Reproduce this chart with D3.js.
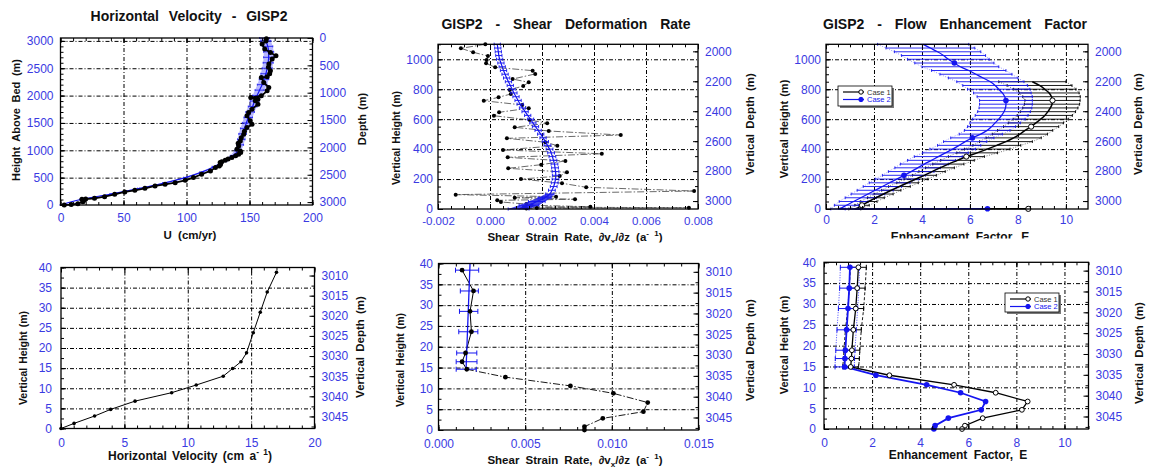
<!DOCTYPE html>
<html lang="en">
<head>
<meta charset="UTF-8">
<title>GISP2 velocity, shear and enhancement</title>
<style>
    body { margin: 0; background: #fff; }
    svg { display: block; }
</style>
</head>
<body>
<svg id="chart" width="1149" height="470"></svg>
<script src="https://cdnjs.cloudflare.com/ajax/libs/d3/7.8.5/d3.min.js"></script>
<script>
// ---- horizontal velocity, whole column ----
const vel_ticks_x = [0, 50, 100, 150, 200];
const vel_ticks_h = [0, 500, 1000, 1500, 2000, 2500, 3000];
const vel_ticks_depth = [0, 500, 1000, 1500, 2000, 2500, 3000];
const vel_meas_h = [2,8,25,61,92,105,110,122,153,195,238,268,305,348,378,409,452,501,562,623,
    684,715,740,776,790,818,840,867,900,928,960,989,1019,1080,1130,1172,1230,1294,1350,1416,
    1477,1538,1630,1691,1752,1843,1904,1934,1965,1996,2087,2148,2240,2331,2343,2400,2454,2520,2576,2667,
    2728,2789,2850,2942,3000,3040];
const vel_meas_u = [3,8.5,13.8,17.8,19,17,20,27,35,43,51,59,67,75,83,91,99,105.5,112,119,
    123,126,127,126.7,128,130.7,133,136,139,141.4,143,142.7,140,141.4,141,142.7,143.5,145.4,146,148,
    152,150.6,148,149.3,152,156.7,154.6,156.7,151,159.4,164,165.3,161.3,159.4,164,166,166.6,165,165.4,168,
    171,166.6,162.1,160,163,163.4];
const vel_model_h = [0,100,200,300,400,500,600,700,800,900,1000,1100,1200,1300,1400,1500,1600,1700,1800,1900,
    2000,2100,2200,2300,2400,2500,2600,2700,2800,2900,3000,3053];
const vel_model_u = [0,16,40,62,82,99,112,122,130,137,141,142.5,143.5,144.5,146,147.5,149,150.5,152.5,154,
    156,158,160,161.5,163,164,164.8,165.2,165.2,164.5,163,162];
const vel_model_err = [0.3,0.6,0.8,0.8,1,1.2,1.4,1.7,2,2.3,2.6,2.8,3,3,3.2,3.2,3.4,3.4,3.5,3.5,
    3.6,3.6,3.8,3.8,4,4,4,4,4,4,4,4];

// ---- shear deformation rate, lowest 1100 m ----
const strain_ticks_x = [-0.002, 0, 0.002, 0.004, 0.006, 0.008];
const upper_ticks_h = [0, 200, 400, 600, 800, 1000];
const upper_ticks_depth = [2000, 2200, 2400, 2600, 2800, 3000];
const strain_meas_h = [1100,1073,1047,1022,995,973,946,924,902,868,846,822,795,768,746,
    723,695,673,646,623,595,572,546,521,494,472,446,423,394,369,345,321,296,272,245,
    220,200,172,145,120,96,82,75,65,58,47,33,25,15,12,9,6,3];
const strain_meas_x = [-0.00018,-0.00112,-0.00065,-0.00008,-0.00013,-0.00015,0.0002,0.00164,0.00174,0.00087,
    0.00149,0.00128,0.00076,0.0008,0.00033,-0.00024,0.00124,0.00149,0.00035,0.00015,0.00153,0.0022,0.00095,
    0.00226,0.00503,0.00065,0.00213,0.00259,0.0005,0.0043,0.00068,0.0029,0.00197,0.0007,0.00296,
    0.00268,0.00119,0.00277,0.0037,0.00785,-0.00132,0.00254,0.00095,0.00327,0.00028,
    0.00042,0.0014,0.0016,0.00386,0.0013,0.00765,0.0018,0.0014];
const model_h = [1100,1075,1050,1025,1000,975,950,925,900,875,850,825,800,775,750,725,700,675,650,625,
    600,575,550,525,500,475,450,425,400,375,350,325,300,275,250,225,200,175,150,125,100,75,50,25,0];
const strain_model_x = [0.00028,0.0003,0.00032,0.00034,0.00037,0.00042,0.00047,0.00052,0.00058,0.00064,
    0.00071,0.00078,0.00085,0.00092,0.001,0.00108,0.00116,0.00125,0.00135,0.00145,
    0.00156,0.00165,0.00175,0.00185,0.00195,0.00204,0.00213,0.00221,0.00229,0.00235,
    0.0024,0.00244,0.00248,0.0025,0.00252,0.00253,0.00252,0.00249,0.00245,0.00238,
    0.0023,0.0021,0.0018,0.0015,0.0011];
const strain_model_err = [0.00012,0.00012,0.00012,0.00012,0.00012,0.00012,0.00012,0.00012,0.00012,0.00012,
    0.00012,0.00012,0.00012,0.00012,0.00012,0.00012,0.00012,0.00012,0.00012,0.00012,
    0.00012,0.00012,0.00012,0.00012,0.00012,0.00012,0.00012,0.00013,0.00013,0.00013,
    0.00013,0.00013,0.00013,0.00013,0.00013,0.00013,0.00013,0.00013,0.00013,0.00013,
    0.00016,0.00025,0.00032,0.00038,0.0004];

// ---- flow enhancement factor, lowest 1100 m (case 1 starts at 850 m) ----
const enh_ticks_x = [0, 2, 4, 6, 8, 10];
const enh_case2 = [4.05,4.35,4.65,4.9,5.1,5.35,5.6,5.95,6.25,6.55,6.85,7.05,7.2,7.35,7.45,7.5,7.5,7.48,7.42,7.32,
    7.2,7.05,6.9,6.72,6.45,6.1,5.8,5.55,5.28,4.98,4.68,4.4,4.1,3.82,3.55,3.25,2.95,2.65,2.35,2.05,
    1.75,1.45,1.15,0.85,0.5];
const enh_case2_err = [1.9,1.85,1.8,1.75,1.7,1.65,1.6,1.55,1.5,1.45,1.4,1.35,1.3,1.2,1.15,1.1,1.1,1.1,1.1,1.1,
    1.1,1.05,1,0.95,0.9,0.9,0.9,0.9,0.95,0.95,1,1,1,0.95,0.95,0.9,0.9,0.85,0.8,0.75,
    0.7,0.65,0.6,0.5,0.3];
const enh_case1 = [8.6,8.9,9.12,9.3,9.4,9.44,9.42,9.35,9.25,9.12,8.95,8.75,8.55,8.3,8.08,7.82,7.5,7.12,6.72,6.3,
    5.85,5.48,5.1,4.75,4.42,4.1,3.75,3.4,3.06,2.72,2.4,2.08,1.78,1.5,1.2];
const enh_case1_err = [1.4,1.35,1.3,1.25,1.2,1.15,1.15,1.15,1.15,1.15,1.15,1.15,1.15,1.15,1.15,1.15,1.1,1,0.95,0.85,
    0.75,0.7,0.65,0.6,0.55,0.5,0.5,0.45,0.45,0.4,0.4,0.35,0.35,0.3,0.25];
const enh_case2_marks = [975, 725, 475, 225];
const enh_case1_marks = [725, 550, 350, 25];
const enh_base = {case1: [8.43, 1], case2: [6.73, 2]};   // [E, height] of the basal points

// ---- lowest 40 m ----
const low_ticks_h = [0, 5, 10, 15, 20, 25, 30, 35, 40];
const low_ticks_depth = [3010, 3015, 3020, 3025, 3030, 3035, 3040, 3045];
const lowvel_ticks_x = [0, 5, 10, 15, 20];
const lowvel_h = [0,1.27,3.1,4.75,6.8,8.9,10.8,13,14.9,16.6,18.8,23.8,28.9,33.9,38.8];
const lowvel_u = [0,1.03,2.65,3.92,5.84,8.73,10.67,12.8,13.54,14.2,14.64,15.17,15.72,16.27,17];

const lowstrain_ticks_x = [0, 0.005, 0.010, 0.015];
const lowstrain_h = [38.4,33.4,28.5,23.6,18.5,16.4,14.6,12.7,10.6,8.8,6.6,4.4,2.8,0.8,0];
const lowstrain_x = [0.00136,0.00202,0.00182,0.0019,0.00156,0.00136,0.00163,0.00386,0.00761,0.01009,
    0.01207,0.01182,0.00948,0.00842,0.00842];
const lowstrain_model_h = [40, 14.6];
const lowstrain_model_x = [0.00182, 0.00159];
const lowstrain_bar_x = [0.00165,0.00178,0.00174,0.00172,0.00163,0.00162,0.0016];
const lowstrain_bar_err = [0.00067,0.00052,0.00053,0.00055,0.00058,0.0006,0.00058];

const lowenh_h = [38.8,33.8,28.9,23.8,18.9,16.9,14.9,12.9,10.6,8.7,6.6,4.6,2.6,0.8,0];
const lowenh_case1 = [1.43,1.38,1.32,1.22,1.16,1.14,1.11,2.72,5.41,7.14,8.47,8.23,6.6,5.86,5.74];
const lowenh_case2 = [1.08,1.05,1,0.94,0.89,0.87,0.86,2.16,4.27,5.68,6.72,6.54,5.17,4.62,4.57];
const lowenh_case1_err = [0.33,0.33,0.33,0.33,0.33,0.33,0.33];
const lowenh_case2_err = [0.4,0.4,0.4,0.4,0.4,0.4,0.4];

const FONT = '"Liberation Sans", Arial, Helvetica, sans-serif';
const TICK_BLUE = "#3a3ae2";
const BLUE = "#1414f0";

const svg = d3.select("#chart").attr("font-family", FONT);

const fmt3 = d => d3.format(".3f")(d).replace("\u2212", "-");

function Panel(opt) {
    this.opt = opt;
    this.x = d3.scaleLinear().domain(opt.x_domain).range(opt.x_range);
    this.y = d3.scaleLinear().domain(opt.y_domain).range(opt.y_range);
    this.depth = d3.scaleLinear()
        .domain([opt.thickness - opt.y_domain[0], opt.thickness - opt.y_domain[1]])
        .range(opt.y_range);
    this.g = svg.append("g");
    this.grid = this.g.append("g");
    this.marks = this.g.append("g");
    this.frame = this.g.append("g");
    this.draw_grid();
    this.draw_frame();
}

Panel.prototype.draw_grid = function() {
    const o = this.opt;
    const [x0, x1] = o.x_range, [yb, yt] = o.y_range;
    const inside = (v, dom) => v > dom[0] + 1e-12 && v < dom[1] - 1e-12;

    this.grid.append("g")
        .attr("transform", "translate(0," + yb + ")")
        .call(d3.axisBottom(this.x)
            .tickValues(o.x_ticks.filter(v => inside(v, o.x_domain)))
            .tickSize(-(yb - yt)).tickFormat(""));
    this.grid.append("g")
        .attr("transform", "translate(" + x0 + ",0)")
        .call(d3.axisLeft(this.y)
            .tickValues(o.y_ticks.filter(v => inside(v, o.y_domain)))
            .tickSize(-(x1 - x0)).tickFormat(""));
    this.grid.selectAll(".domain").remove();
    this.grid.selectAll("line")
        .attr("stroke", "#000")
        .attr("stroke-width", 1)
        .attr("stroke-dasharray", "4,2,1,2");
}

Panel.prototype.draw_frame = function() {
    const o = this.opt;
    const [x0, x1] = o.x_range, [yb, yt] = o.y_range;
    const minor = (a, b, step) => {
        const lo = Math.min(a, b), hi = Math.max(a, b);
        return d3.range(Math.ceil(lo / step - 1e-9) * step, hi + 1e-9, step);
    };
    const put = (gen, tx, ty, fs) => {
        const a = this.frame.append("g")
            .attr("transform", "translate(" + tx + "," + ty + ")")
            .call(gen);
        a.select(".domain").remove();
        a.selectAll("line").attr("stroke", "#000");
        a.selectAll("text")
            .attr("fill", TICK_BLUE)
            .attr("font-size", fs || 12)
            .attr("font-family", FONT);
        return a;
    };
    const xfmt = o.x_fmt || d3.format("d");

    // bottom + top
    put(d3.axisBottom(this.x).tickValues(o.x_ticks).tickSizeInner(-5).tickSizeOuter(0)
        .tickPadding(o.x_pad).tickFormat(xfmt), 0, yb, o.x_font);
    put(d3.axisBottom(this.x).tickValues(minor(o.x_domain[0], o.x_domain[1], o.x_minor))
        .tickSizeInner(-3).tickSizeOuter(0).tickFormat(""), 0, yb);
    put(d3.axisTop(this.x).tickValues(o.x_ticks).tickSizeInner(-5).tickSizeOuter(0)
        .tickFormat(""), 0, yt);
    put(d3.axisTop(this.x).tickValues(minor(o.x_domain[0], o.x_domain[1], o.x_minor))
        .tickSizeInner(-3).tickSizeOuter(0).tickFormat(""), 0, yt);

    // left: height above bed
    put(d3.axisLeft(this.y).tickValues(o.y_ticks).tickSizeInner(-5).tickSizeOuter(0)
        .tickPadding(o.y_pad).tickFormat(d3.format("d")), x0, 0);
    put(d3.axisLeft(this.y).tickValues(minor(o.y_domain[0], o.y_domain[1], o.y_minor))
        .tickSizeInner(-3).tickSizeOuter(0).tickFormat(""), x0, 0);

    // right: depth
    const dd = this.depth.domain();
    put(d3.axisRight(this.depth).tickValues(o.d_ticks).tickSizeInner(-5).tickSizeOuter(0)
        .tickPadding(7).tickFormat(d3.format("d")), x1, 0);
    put(d3.axisRight(this.depth).tickValues(minor(dd[0], dd[1], o.d_minor))
        .tickSizeInner(-3).tickSizeOuter(0).tickFormat(""), x1, 0);

    this.frame.append("rect")
        .attr("x", x0).attr("y", yt)
        .attr("width", x1 - x0).attr("height", yb - yt)
        .attr("fill", "none").attr("stroke", "#000").attr("stroke-width", 1.3);
}

Panel.prototype.error_bars = function(hs, vals, errs, color, cap, width) {
    const p = this;
    this.marks.append("g").selectAll("path")
        .data(hs.map((h, i) => [h, vals[i], errs[i]]))
        .enter().append("path")
        .attr("d", d => {
            const yy = p.y(d[0]), xa = p.x(d[1] - d[2]), xb = p.x(d[1] + d[2]);
            return "M" + xa + "," + yy + "H" + xb +
                "M" + xa + "," + (yy - cap) + "V" + (yy + cap) +
                "M" + xb + "," + (yy - cap) + "V" + (yy + cap);
        })
        .attr("fill", "none").attr("stroke", color).attr("stroke-width", width || 1);
}

Panel.prototype.line = function(hs, vals, style, curve) {
    const p = this;
    const gen = d3.line().x(d => p.x(d[1])).y(d => p.y(d[0]));
    if (curve) gen.curve(curve);
    const path = this.marks.append("path")
        .datum(hs.map((h, i) => [h, vals[i]]))
        .attr("d", gen)
        .attr("fill", "none");
    Object.entries(style).forEach(([k, v]) => path.attr(k, v));
    return path;
}

Panel.prototype.dots = function(hs, vals, r, fill, stroke) {
    const p = this;
    this.marks.append("g").selectAll("circle")
        .data(hs.map((h, i) => [h, vals[i]]))
        .enter().append("circle")
        .attr("cx", d => p.x(d[1])).attr("cy", d => p.y(d[0]))
        .attr("r", r)
        .attr("fill", fill)
        .attr("stroke", stroke || "none")
        .attr("stroke-width", 1);
}

function text(x, y, str, size, opts) {
    opts = opts || {};
    const t = svg.append("text")
        .attr("x", x).attr("y", y)
        .attr("font-size", size)
        .attr("font-weight", "bold")
        .attr("text-anchor", "middle")
        .attr("fill", "#111")
        .attr("word-spacing", opts.ws || 0);
    if (opts.rotate) {
        t.attr("x", 0).attr("y", 0)
            .attr("transform", "translate(" + x + "," + y + ") rotate(-90)");
    }
    if (opts.parts) {
        opts.parts.forEach(pt => {
            const s = t.append("tspan").text(pt.t);
            if (pt.sup) s.attr("font-size", size * 0.7).attr("dy", -size * 0.4);
            if (pt.sub) s.attr("font-size", size * 0.7).attr("dy", size * 0.3);
            if (pt.reset) s.attr("dy", pt.reset);
        });
    } else {
        t.text(str);
    }
    return t;
}

function legend(x, y, w, h, rows) {
    const g = svg.append("g");
    g.append("rect").attr("x", x + 2).attr("y", y + 2).attr("width", w).attr("height", h)
        .attr("fill", "#777");
    g.append("rect").attr("x", x).attr("y", y).attr("width", w).attr("height", h)
        .attr("fill", "#fff").attr("stroke", "#000").attr("stroke-width", 0.8);
    rows.forEach((r, i) => {
        const yy = y + 6 + i * 7.5;
        g.append("line").attr("x1", x + 5).attr("x2", x + 26).attr("y1", yy).attr("y2", yy)
            .attr("stroke", r.color).attr("stroke-width", 1.2);
        g.append("circle").attr("cx", x + 23).attr("cy", yy).attr("r", 2.2)
            .attr("fill", r.open ? "#fff" : r.color).attr("stroke", r.color);
        g.append("text").attr("x", x + 29).attr("y", yy + 2.5).attr("font-size", 7.5)
            .attr("fill", r.color === "#000" ? "#333" : r.color).text(r.label);
    });
}

// ================= top row =================
const p1 = new Panel({
    x_domain: [0, 200], x_range: [60.5, 312.5], x_ticks: vel_ticks_x, x_minor: 10, x_pad: 8.5,
    y_domain: [0, 3053], y_range: [205, 38], y_ticks: vel_ticks_h, y_minor: 100, y_pad: 7,
    thickness: 3053, d_ticks: vel_ticks_depth, d_minor: 100
});
p1.marks.append("path")
    .datum(vel_model_h.map((h, i) => [h, vel_model_u[i], vel_model_err[i]]))
    .attr("d", d3.area().y(d => p1.y(d[0])).x0(d => p1.x(d[1] - d[2])).x1(d => p1.x(d[1] + d[2])))
    .attr("fill", "#4a4aff").attr("fill-opacity", 0.4);
p1.error_bars(vel_model_h, vel_model_u, vel_model_err, BLUE, 1, 0.8);
p1.line(vel_model_h, vel_model_u, {stroke: BLUE, "stroke-width": 1.2}, d3.curveMonotoneY);
p1.line(vel_meas_h, vel_meas_u, {stroke: "#000", "stroke-width": 1.8});
p1.dots(vel_meas_h, vel_meas_u, 2.5, "#000");

const p2 = new Panel({
    x_domain: [-0.002, 0.008], x_range: [438, 698], x_ticks: strain_ticks_x, x_minor: 0.0005,
    x_pad: 8, x_fmt: fmt3, x_font: 11.5,
    y_domain: [0, 1100], y_range: [209, 44.3], y_ticks: upper_ticks_h, y_minor: 50, y_pad: 5,
    thickness: 3053, d_ticks: upper_ticks_depth, d_minor: 100
});
p2.line(strain_meas_h, strain_meas_x,
    {stroke: "#444", "stroke-width": 0.8, "stroke-dasharray": "7,2,1.5,2"});
p2.dots(strain_meas_h, strain_meas_x, 2, "#000");
{
    const low = model_h.map((h, i) => [h, strain_model_x[i], strain_model_err[i]]).filter(d => d[0] <= 100);
    p2.marks.append("path").datum(low)
        .attr("d", d3.area().y(d => p2.y(d[0])).x0(d => p2.x(d[1] - d[2])).x1(d => p2.x(d[1] + d[2])))
        .attr("fill", "#2424e8").attr("fill-opacity", 0.85);
}
p2.error_bars(model_h, strain_model_x, strain_model_err, BLUE, 1.6, 0.9);
p2.line(model_h, strain_model_x, {stroke: BLUE, "stroke-width": 1.2}, d3.curveMonotoneY);

const p3 = new Panel({
    x_domain: [0, 10.92], x_range: [826, 1088], x_ticks: enh_ticks_x, x_minor: 0.5, x_pad: 6.5,
    y_domain: [0, 1100], y_range: [209, 44.3], y_ticks: upper_ticks_h, y_minor: 50, y_pad: 5,
    thickness: 3053, d_ticks: upper_ticks_depth, d_minor: 100
});
{
    const h1 = model_h.slice(model_h.length - enh_case1.length);
    const env = (p, hs, v, e, sign, color, dash) =>
        p.line(hs, v.map((x, i) => x + sign * e[i]),
            {stroke: color, "stroke-width": 0.8, "stroke-dasharray": dash});
    env(p3, h1, enh_case1, enh_case1_err, -1, "#555", "1,1.5");
    env(p3, h1, enh_case1, enh_case1_err, 1, "#555", "1,1.5");
    p3.error_bars(h1, enh_case1, enh_case1_err, "#000", 1.4, 0.9);
    env(p3, model_h, enh_case2, enh_case2_err, -1, "#8080ff", "1,1.5");
    env(p3, model_h, enh_case2, enh_case2_err, 1, "#8080ff", "1,1.5");
    p3.error_bars(model_h, enh_case2, enh_case2_err, BLUE, 1.4, 0.9);

    p3.line(h1.concat([enh_base.case1[1]]), enh_case1.concat([enh_base.case1[0]]),
        {stroke: "#000", "stroke-width": 1.5}, d3.curveMonotoneY);
    p3.line(model_h.concat([enh_base.case2[1]]), enh_case2.concat([enh_base.case2[0]]),
        {stroke: BLUE, "stroke-width": 1.3}, d3.curveMonotoneY);

    const pick = (hs, v, marks) => marks.map(m => v[hs.indexOf(m)]);
    p3.dots(enh_case1_marks.concat([enh_base.case1[1]]),
        pick(h1, enh_case1, enh_case1_marks).concat([enh_base.case1[0]]), 2.6, "#fff", "#000");
    p3.dots(enh_case2_marks.concat([enh_base.case2[1]]),
        pick(model_h, enh_case2, enh_case2_marks).concat([enh_base.case2[0]]), 2.8, BLUE);
}
legend(838, 86, 54, 20, [
    {label: "Case 1", color: "#000", open: true},
    {label: "Case 2", color: BLUE, open: false}
]);

// titles and axis labels, top row
text(189, 21, "Horizontal Velocity - GISP2", 14, {ws: 6});
text(566, 29, "GISP2 - Shear Deformation Rate", 14, {ws: 9});
text(955, 29, "GISP2 - Flow Enhancement Factor", 14, {ws: 9});

text(190, 239, "U (cm/yr)", 11.5, {ws: 3});
text(575, 241, null, 11.5, {ws: 3, parts: [
    {t: "Shear Strain Rate,  \u2202v"}, {t: "x", sub: true}, {t: "/\u2202z  (a", reset: -11.5 * 0.3},
    {t: "- 1", sup: true}, {t: ")", reset: 11.5 * 0.4}]});
text(960, 241, "Enhancement Factor, E", 12, {ws: 3});

text(20, 120, "Height Above Bed (m)", 11, {rotate: true, ws: 2.5});
text(366, 119, "Depth (m)", 11, {rotate: true, ws: 1});
text(400, 138, "Vertical Height (m)", 10.5, {rotate: true, ws: 1});
text(754, 124, "Vertical Depth (m)", 11.5, {rotate: true, ws: 2});
text(788, 129, "Vertical Height (m)", 11, {rotate: true, ws: 1});
text(1142, 124, "Vertical Depth (m)", 11.5, {rotate: true, ws: 2});

// the lower row sits on top of the upper row's bottom labels
svg.append("rect").attr("x", 383).attr("y", 242.5).attr("width", 383).attr("height", 30).attr("fill", "#fff");
svg.append("rect").attr("x", 766).attr("y", 238.5).attr("width", 383).attr("height", 30).attr("fill", "#fff");

// ================= bottom row =================
const p4 = new Panel({
    x_domain: [0, 20], x_range: [61, 314.5], x_ticks: lowvel_ticks_x, x_minor: 1, x_pad: 9.5,
    y_domain: [0, 40], y_range: [428.5, 267.5], y_ticks: low_ticks_h, y_minor: 2.5, y_pad: 9,
    thickness: 3048, d_ticks: low_ticks_depth, d_minor: 2.5
});
p4.line(lowvel_h, lowvel_u, {stroke: "#000", "stroke-width": 1});
p4.dots(lowvel_h, lowvel_u, 1.8, "#000");

const p5 = new Panel({
    x_domain: [0, 0.015], x_range: [438.5, 698.5], x_ticks: lowstrain_ticks_x, x_minor: 0.001,
    x_pad: 9.5, x_fmt: fmt3,
    y_domain: [0, 40], y_range: [430, 263.5], y_ticks: low_ticks_h, y_minor: 2.5, y_pad: 5.5,
    thickness: 3048, d_ticks: low_ticks_depth, d_minor: 2.5
});
{
    const k = lowstrain_bar_x.length;
    p5.line(lowstrain_h.slice(k - 1), lowstrain_x.slice(k - 1),
        {stroke: "#000", "stroke-width": 0.9, "stroke-dasharray": "7,2,1.5,2"});
    p5.line(lowstrain_h.slice(0, k), lowstrain_x.slice(0, k), {stroke: "#000", "stroke-width": 1});
    p5.error_bars(lowstrain_h.slice(0, k), lowstrain_bar_x, lowstrain_bar_err, BLUE, 2.5, 1);
    p5.line(lowstrain_model_h, lowstrain_model_x, {stroke: BLUE, "stroke-width": 1.3});
    p5.dots(lowstrain_h, lowstrain_x, 2.4, "#000");
}

const p6 = new Panel({
    x_domain: [0, 11], x_range: [824, 1088.5], x_ticks: enh_ticks_x, x_minor: 0.5, x_pad: 9,
    y_domain: [0, 40], y_range: [429, 262.3], y_ticks: low_ticks_h, y_minor: 2.5, y_pad: 8,
    thickness: 3048, d_ticks: low_ticks_depth, d_minor: 2.5
});
{
    const k = lowenh_case1_err.length;
    const hs = lowenh_h.slice(0, k);
    const env = (v, e, sign, color, dash) =>
        p6.line(hs, v.slice(0, k).map((x, i) => x + sign * e[i]),
            {stroke: color, "stroke-width": 0.9, "stroke-dasharray": dash});
    env(lowenh_case1, lowenh_case1_err, -1, "#000", "3,2");
    env(lowenh_case1, lowenh_case1_err, 1, "#000", "3,2");
    env(lowenh_case2, lowenh_case2_err, -1, "#3030ff", "1,1.5");
    env(lowenh_case2, lowenh_case2_err, 1, "#3030ff", "1,1.5");
    p6.error_bars(hs, lowenh_case1.slice(0, k), lowenh_case1_err, "#000", 2.5, 1);
    p6.error_bars(hs, lowenh_case2.slice(0, k), lowenh_case2_err, BLUE, 2.5, 1);
    p6.line(lowenh_h, lowenh_case1, {stroke: "#000", "stroke-width": 1.3});
    p6.line(lowenh_h, lowenh_case2, {stroke: BLUE, "stroke-width": 1.8});
    p6.dots(lowenh_h, lowenh_case1, 2.4, "#fff", "#000");
    p6.dots(lowenh_h, lowenh_case2, 2.8, BLUE);
}
legend(1005, 293, 54, 19, [
    {label: "Case 1", color: "#000", open: true},
    {label: "Case 2", color: BLUE, open: false}
]);

text(190, 460, null, 12, {ws: 2, parts: [
    {t: "Horizontal Velocity (cm a"}, {t: "- 1", sup: true}, {t: ")", reset: 12 * 0.4}]});
text(575, 464, null, 11.5, {ws: 3, parts: [
    {t: "Shear Strain Rate,  \u2202v"}, {t: "x", sub: true}, {t: "/\u2202z  (a", reset: -11.5 * 0.3},
    {t: "- 1", sup: true}, {t: ")", reset: 11.5 * 0.4}]});
text(958, 459, "Enhancement Factor, E", 12, {ws: 3});

text(27, 358, "Vertical Height (m)", 10.5, {rotate: true, ws: 1});
text(364, 347, "Vertical Depth (m)", 11.5, {rotate: true, ws: 2});
text(404, 360, "Vertical Height (m)", 10.5, {rotate: true, ws: 1});
text(754, 350, "Vertical Depth (m)", 11.5, {rotate: true, ws: 2});
text(788, 345, "Vertical Height (m)", 11, {rotate: true, ws: 1});
text(1143, 353, "Vertical Depth (m)", 11.5, {rotate: true, ws: 2});
</script>
</body>
</html>
